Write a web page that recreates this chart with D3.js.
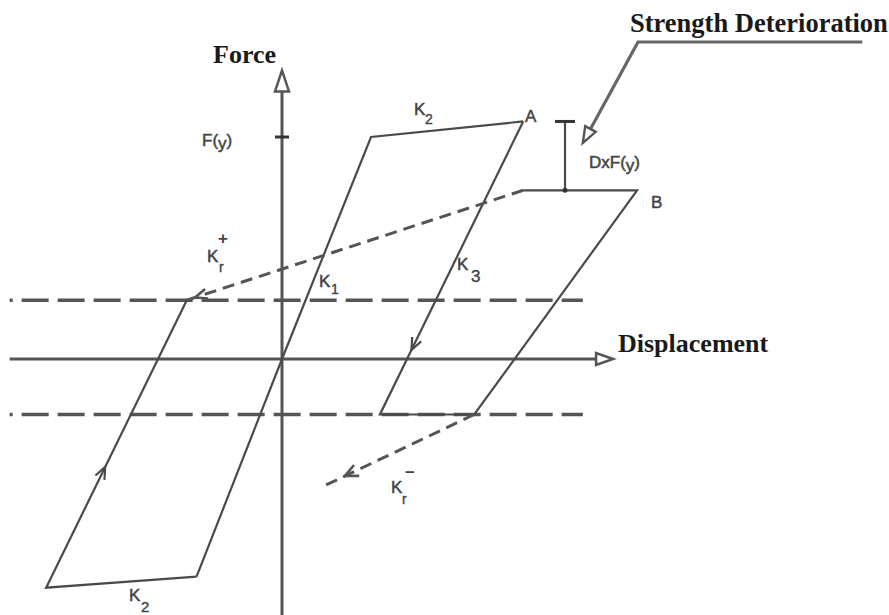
<!DOCTYPE html>
<html><head><meta charset="utf-8">
<script src="https://cdn.jsdelivr.net/npm/d3@7"></script>
<style>html,body{margin:0;padding:0;background:#fff;}svg{display:block;}</style>
</head><body>
<script>
// ---- data (displacement, force) in units of yield displacement / yield force F(y)
const primaryPath   = [[-0.96,-0.98],[0,0],[1.0,1.0],[2.71,1.07]];          // K1 then K2 up to A
const unloadPath    = [[2.71,1.07],[1.10,-0.25],[2.16,-0.25],[3.99,0.76],[2.71,0.76]]; // K3, reload to B
const reversePath   = [[-0.96,-0.98],[-2.65,-1.03],[-1.07,0.265]];          // K2 (negative) and reload
const krPlusPath    = [[2.71,0.76],[-1.07,0.265]];
const krMinusPath   = [[2.16,-0.25],[0.43,-0.58]];
const dashLevels    = [0.265,-0.25];
const dashExtent    = [-3.06,3.38];
const xAxisExtent   = [-3.06,3.72];
const yAxisExtent   = [-1.16,1.30];
const yieldForce    = 1.0;
const deteriorLevels= [1.07,0.76];
const deteriorDisp  = 3.18;
const leaderPath    = [[6.52,1.428],[4.0,1.428],[3.38,0.973]];

const W=889,H=615;
const svg=d3.select("body").append("svg").attr("width",W).attr("height",H);
const x=d3.scaleLinear().domain([-3,4]).range([15,638]);
const y=d3.scaleLinear().domain([-1,1]).range([581,137]);
const line=d3.line().x(d=>x(d[0])).y(d=>y(d[1]));
const LC="#4a4a4a";

// dashed horizontal levels
svg.selectAll(".lvl").data(dashLevels).join("line")
  .attr("x1",x(dashExtent[0])).attr("x2",x(dashExtent[1]))
  .attr("y1",d=>y(d)).attr("y2",d=>y(d))
  .attr("stroke","#555").attr("stroke-width",3.5).attr("stroke-dasharray","3,9,27,9,27,9,27,9,27,9,27,9,27,9,27,9,27,9,27,9,27,9,27,9,27,9,27,9,27,9,27,9,27,9");

// axes
svg.append("line").attr("x1",x(xAxisExtent[0])).attr("x2",x(xAxisExtent[1])-16)
  .attr("y1",y(0)).attr("y2",y(0)).attr("stroke","#555").attr("stroke-width",3);
svg.append("line").attr("x1",x(0)).attr("x2",x(0))
  .attr("y1",y(yAxisExtent[0])).attr("y2",y(yAxisExtent[1])+20).attr("stroke","#555").attr("stroke-width",3);
// axis arrowheads (open triangles)
{
  const tx=x(xAxisExtent[1]), ty=y(0);
  svg.append("path").attr("d",`M${tx},${ty} L${tx-17},${ty-6} L${tx-17},${ty+6} Z`)
    .attr("fill","#fff").attr("stroke","#555").attr("stroke-width",2.5);
  const vx=x(0), vy=y(yAxisExtent[1]);
  svg.append("path").attr("d",`M${vx},${vy} L${vx-7},${vy+21} L${vx+7},${vy+21} Z`)
    .attr("fill","#fff").attr("stroke","#555").attr("stroke-width",2.5);
}
// F(y) tick
svg.append("line").attr("x1",x(0)-7).attr("x2",x(0)+7).attr("y1",y(yieldForce)).attr("y2",y(yieldForce))
  .attr("stroke","#333").attr("stroke-width",3);

// hysteresis paths
[primaryPath,unloadPath,reversePath].forEach(p=>{
  svg.append("path").attr("d",line(p)).attr("fill","none").attr("stroke",LC)
    .attr("stroke-width",2.2).attr("stroke-linejoin","miter");
});
[krPlusPath,krMinusPath].forEach(p=>{
  svg.append("path").attr("d",line(p)).attr("fill","none").attr("stroke","#555")
    .attr("stroke-width",3).attr("stroke-dasharray","12,7");
});

// direction arrows (open V)
function vArrow(p0,p1,t,col,len=12,wid=5,sw=2.2){
  const a=[x(p0[0]),y(p0[1])], b=[x(p1[0]),y(p1[1])];
  const dx=b[0]-a[0], dy=b[1]-a[1], L=Math.hypot(dx,dy);
  const ux=dx/L, uy=dy/L, nx=-uy, ny=ux;
  const px=a[0]+dx*t, py=a[1]+dy*t;
  svg.append("path")
    .attr("d",`M${px-len*ux+wid*nx},${py-len*uy+wid*ny} L${px},${py} L${px-len*ux-wid*nx},${py-len*uy-wid*ny}`)
    .attr("fill","none").attr("stroke",col).attr("stroke-width",sw);
}
vArrow(reversePath[1],reversePath[2],0.42,LC);
vArrow(unloadPath[0],unloadPath[1],0.78,LC);
vArrow(krMinusPath[0],krMinusPath[1],0.84,"#555",13,6,2.6);
vArrow(krPlusPath[0],krPlusPath[1],0.975,"#555",12,5,2.6);

// strength deterioration dimension
svg.append("line").attr("x1",x(deteriorDisp)).attr("x2",x(deteriorDisp))
  .attr("y1",y(deteriorLevels[0])).attr("y2",y(deteriorLevels[1])).attr("stroke",LC).attr("stroke-width",2.2);
svg.append("line").attr("x1",x(deteriorDisp)-10).attr("x2",x(deteriorDisp)+10)
  .attr("y1",y(deteriorLevels[0])).attr("y2",y(deteriorLevels[0])).attr("stroke","#333").attr("stroke-width",3);
svg.append("circle").attr("cx",x(deteriorDisp)).attr("cy",y(deteriorLevels[1])).attr("r",2.5).attr("fill","#333");

// leader
{
  const pts=leaderPath.map(d=>[x(d[0]),y(d[1])]);
  const a=pts[1], b=pts[2];
  const dx=b[0]-a[0], dy=b[1]-a[1], L=Math.hypot(dx,dy), ux=dx/L, uy=dy/L, nx=-uy, ny=ux;
  const hl=16, hw=6;
  const base=[b[0]-hl*ux,b[1]-hl*uy];
  svg.append("path").attr("d",`M${pts[0][0]},${pts[0][1]} L${a[0]},${a[1]} L${base[0]},${base[1]}`)
    .attr("fill","none").attr("stroke","#666").attr("stroke-width",3.2);
  svg.append("path").attr("d",`M${b[0]},${b[1]} L${base[0]+hw*nx},${base[1]+hw*ny} L${base[0]-hw*nx},${base[1]-hw*ny} Z`)
    .attr("fill","#fff").attr("stroke","#555").attr("stroke-width",2.4);
}

// bold titles
const serif="'Liberation Serif','Times New Roman',serif";
function title(t,px,py,fs){svg.append("text").attr("x",px).attr("y",py).text(t)
  .attr("font-family",serif).attr("font-weight","bold").attr("font-size",fs||26).attr("fill","#1a1a1a");}
title("Force",213,63);
title("Strength Deterioration",630,32,26.5);
title("Displacement",618,352);

// small sans labels
const sans="'Liberation Sans',Arial,sans-serif";
const SC="#444";
function lab(px,py,main,sub,sup,opts={}){
  const t=svg.append("text").attr("x",px).attr("y",py).attr("font-family",sans)
    .attr("font-size",opts.fs||17).attr("fill",SC).attr("stroke",SC).attr("stroke-width",0.5);
  t.append("tspan").text(main);
  if(sup!==undefined){
    svg.append("text").attr("x",px+(opts.supdx||11)).attr("y",py-(opts.supdy||13)).attr("font-family",sans)
      .attr("font-size",17).attr("font-weight","bold").attr("fill",SC).text(sup);
  }
  if(sub!==undefined){
    svg.append("text").attr("x",px+(opts.subdx||11)).attr("y",py+(opts.subdy||9)).attr("font-family",sans)
      .attr("font-size",opts.sfs||14).attr("fill",SC).attr("stroke",SC).attr("stroke-width",0.4).text(sub);
  }
}
lab(414,115,"K","2");
lab(319,287,"K","1",undefined,{subdx:12,subdy:7});
lab(457,270,"K","3",undefined,{subdx:14,subdy:12,sfs:17});
lab(207,262,"K","r","+",{subdx:12,subdy:10,supdx:11,supdy:18});
lab(391,493,"K","r","−",{subdx:0,subdy:11,supdx:14,supdy:15});
lab(129,601,"K","2",undefined,{subdx:12,subdy:11,sfs:15});
lab(525,122,"A");
lab(651,208,"B");
// F(y) and DxF(y)
function fy(px,py,pre){
  const t=svg.append("text").attr("x",px).attr("y",py).attr("font-family",sans).attr("font-size",17)
    .attr("fill",SC).attr("stroke",SC).attr("stroke-width",0.5);
  t.append("tspan").text(pre+"(");
  t.append("tspan").attr("dy",3).text("y");
  t.append("tspan").attr("dy",-3).text(")");
}
fy(202,146,"F");
fy(589,168,"DxF");
</script>
</body></html>
